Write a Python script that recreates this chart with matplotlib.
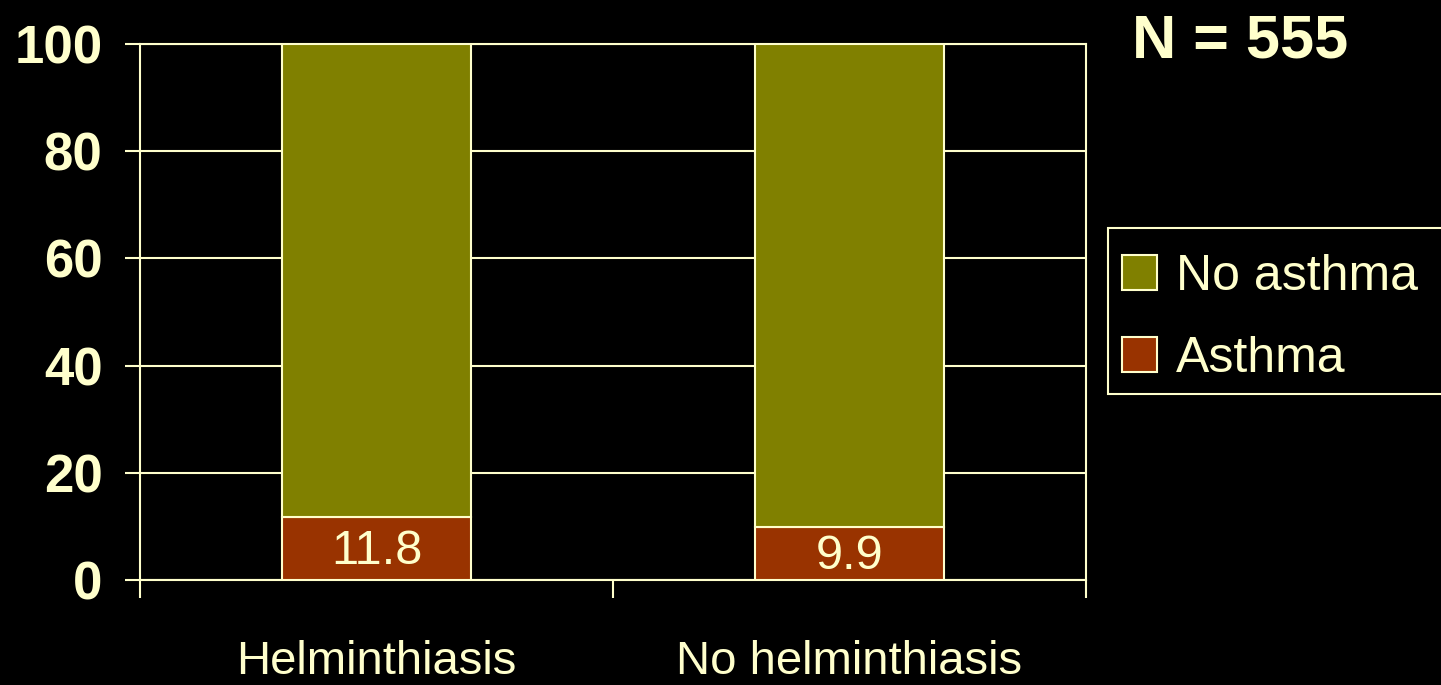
#!/usr/bin/env python3
"""Asthma prevalence by helminthiasis status - stacked bars"""
import matplotlib
matplotlib.use("Agg")
import matplotlib.pyplot as plt
from matplotlib.patches import Rectangle
import numpy as np

# data
categories = ["Helminthiasis", "No helminthiasis"]
asthma = [11.8, 9.9]
no_asthma = [100 - v for v in asthma]
series_names = ["No asthma", "Asthma"]
y_ticks = [0, 20, 40, 60, 80, 100]
n_label = "N = 555"

CREAM = "#FFFFCC"
OLIVE = "#808000"
RUST = "#993300"
SANS = ["Liberation Sans", "DejaVu Sans"]

W, H = 1441, 685
fig = plt.figure(figsize=(W / 100, H / 100), dpi=100, facecolor="black")
ax = fig.add_axes([140 / W, (H - 580) / H, 946 / W, 536 / H], facecolor="black")

x = np.arange(len(categories))
b1 = ax.bar(x, asthma, 0.4, color=RUST, edgecolor=CREAM, linewidth=1.5,
            label=series_names[1], zorder=3)
b2 = ax.bar(x, no_asthma, 0.4, bottom=asthma, color=OLIVE, edgecolor=CREAM,
            linewidth=1.5, label=series_names[0], zorder=3)

for xi, v in zip(x, asthma):
    ax.text(xi, v / 2 - 0.5, f"{v}", ha="center", va="center", color=CREAM,
            fontsize=35, family=SANS, zorder=4)

ax.set_xlim(-0.5, 1.5)
ax.set_ylim(0, 100)
ax.set_yticks(y_ticks)
ax.set_yticklabels([str(t) for t in y_ticks], fontsize=38, fontweight="bold",
                   family=SANS, color=CREAM)
ax.yaxis.grid(True, color=CREAM, linewidth=1.5, zorder=0)
ax.tick_params(axis="y", direction="out", length=11, width=1.5, color=CREAM, pad=16)

ax.set_xticks(x)
ax.set_xticklabels(categories, fontsize=34, family=SANS, color=CREAM)
ax.set_xticks([-0.5, 0.5, 1.5], minor=True)
ax.tick_params(axis="x", which="major", length=0, pad=43)
ax.tick_params(axis="x", which="minor", direction="out", length=13, width=1.5, color=CREAM)

for s in ax.spines.values():
    s.set_color(CREAM)
    s.set_linewidth(1.5)

# legend frame (runs off the right edge like the original slide)
fig.patches.append(Rectangle((1108 / W, 1 - 394 / H), (W - 1108 + 10) / W, 166 / H,
                             transform=fig.transFigure, facecolor="black",
                             edgecolor=CREAM, linewidth=1.5))
leg = fig.legend(handles=[b2, b1], labels=series_names, loc="center left",
                 bbox_to_anchor=(1122 / W, 1 - 318 / H), borderaxespad=0,
                 prop={"family": SANS, "size": 36},
                 frameon=False, handlelength=0.7, handleheight=0.7,
                 handletextpad=0.38, labelspacing=0.72, borderpad=0)
for t in leg.get_texts():
    t.set_color(CREAM)

fig.text(1132 / W, 1 - 14 / H, n_label, ha="left", va="top", fontsize=44,
         fontweight="bold", family=SANS, color=CREAM)

plt.savefig("out.png", dpi=100, facecolor="black")
plt.close()
print("Saved: out.png")
